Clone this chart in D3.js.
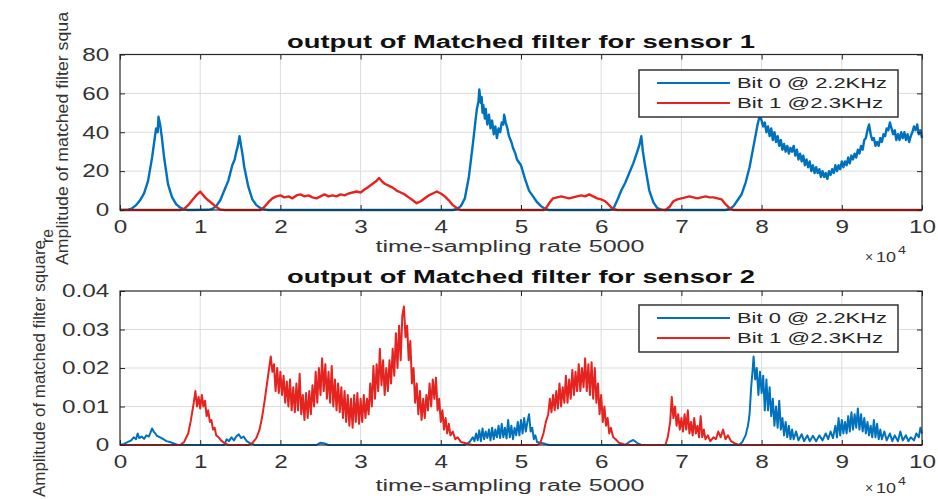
<!DOCTYPE html>
<html><head><meta charset="utf-8">
<script src="https://cdn.jsdelivr.net/npm/d3@7"></script>
<style>body{margin:0;background:#fff}svg{display:block}</style>
</head><body>
<svg id="c" width="938" height="499"></svg>
<script>
// ---------------- DATA ----------------
const xTicks = [0,1,2,3,4,5,6,7,8,9,10];
const yTicksTop = [0,20,40,60,80];
const yTicksBottom = [0,0.01,0.02,0.03,0.04];
const titles = ["output of Matched filter for sensor 1","output of Matched filter for sensor 2"];
const xLabel = "time-sampling rate 5000";
const yLabelTop = ["Amplitude of matched filter squa","re"];
const yLabelBottom = "Amplitude of matched filter square";
const legendLabels = ["Bit 0 @ 2.2KHz","Bit 1 @2.3KHz"];

// sensor 1, bit 0 (x in 1e4 samples, y amplitude)
const s1Bit0 = [[0,0],[0.1,0.2],[0.15,0.8],[0.2,2.5],[0.25,5],[0.3,8.5],[0.35,15],[0.4,27],[0.43,36],[0.45,42],[0.47,40],[0.48,48],[0.5,44],[0.52,38],[0.55,27],[0.6,13],[0.65,6.5],[0.7,3],[0.75,1.2],[0.8,0.3],[0.85,0],[1.1,0.1],[1.15,0.5],[1.2,2],[1.25,5],[1.3,10],[1.35,15],[1.4,23],[1.43,26],[1.45,30],[1.47,33],[1.49,38],[1.51,33],[1.53,28],[1.55,22],[1.6,12],[1.65,5.5],[1.7,2.5],[1.75,1],[1.8,0.3],[1.85,0],[4.15,0],[4.2,0.5],[4.25,2],[4.3,6],[4.35,17],[4.4,34],[4.43,45],[4.45,52],[4.47,56],[4.48,62],[4.5,55],[4.51,58],[4.52,50],[4.53,54],[4.55,47],[4.56,52],[4.58,44],[4.6,49],[4.62,42],[4.64,46],[4.66,39],[4.68,43],[4.7,37],[4.72,42],[4.74,40],[4.76,45],[4.78,44],[4.79,49],[4.81,45],[4.83,42],[4.85,38],[4.88,35],[4.9,32],[4.93,29],[4.95,26],[5.0,23],[5.05,16],[5.1,10],[5.15,7],[5.2,4],[5.25,2],[5.3,0.5],[5.35,0],[6.1,0],[6.15,0.5],[6.2,5],[6.25,10],[6.3,14],[6.35,19],[6.4,24],[6.45,30],[6.48,34],[6.5,38],[6.52,30],[6.55,22],[6.6,10],[6.65,4],[6.7,1],[6.75,0.2],[6.8,0],[7.55,0],[7.6,0.5],[7.65,2],[7.7,5],[7.75,8],[7.8,14],[7.85,22],[7.9,33],[7.95,44],[7.98,49],[8.0,46],[8.02,43],[8.04,45],[8.06,40],[8.08,43],[8.1,38],[8.12,42],[8.14,36],[8.16,40],[8.18,35],[8.2,38],[8.22,33],[8.24,36],[8.26,31],[8.28,34],[8.3,30],[8.32,33],[8.34,29],[8.36,32],[8.38,30],[8.4,33],[8.42,28],[8.44,31],[8.46,26],[8.48,29],[8.5,25],[8.52,28],[8.54,23],[8.56,26],[8.58,22],[8.6,25],[8.62,20],[8.64,23],[8.66,19],[8.68,22],[8.7,19],[8.72,21],[8.74,17],[8.76,20],[8.78,17],[8.8,19],[8.82,16],[8.84,20],[8.86,18],[8.88,21],[8.9,19],[8.92,23],[8.94,20],[8.96,23],[8.98,21],[9.0,25],[9.02,22],[9.04,25],[9.06,23],[9.08,27],[9.1,24],[9.12,28],[9.14,26],[9.16,29],[9.18,27],[9.2,31],[9.22,29],[9.24,33],[9.26,31],[9.28,36],[9.3,37],[9.32,41],[9.34,44],[9.36,39],[9.38,36],[9.4,37],[9.42,33],[9.44,35],[9.46,33],[9.48,37],[9.5,35],[9.52,39],[9.54,38],[9.56,42],[9.58,41],[9.6,45],[9.62,42],[9.64,39],[9.66,41],[9.68,36],[9.7,39],[9.72,36],[9.74,40],[9.76,37],[9.78,40],[9.8,36],[9.82,39],[9.84,35],[9.86,38],[9.88,40],[9.9,43],[9.92,41],[9.94,44],[9.96,39],[9.98,41],[10,37]];

// sensor 1, bit 1
const s1Bit1 = [[0,0],[0.75,0],[0.8,0.6],[0.85,2.5],[0.9,5],[0.95,7.5],[1.0,9.5],[1.03,8],[1.06,6.5],[1.1,5],[1.13,4],[1.16,3],[1.2,1.5],[1.25,0.3],[1.3,0],[1.75,0],[1.8,1.5],[1.85,4],[1.9,6],[1.95,7],[2.0,7.5],[2.05,6.5],[2.1,7],[2.15,6],[2.2,7.5],[2.25,8],[2.3,7],[2.35,7.5],[2.4,6.5],[2.45,6],[2.5,7],[2.55,8],[2.6,7],[2.65,7.5],[2.7,7],[2.75,8],[2.8,7.5],[2.85,8.5],[2.9,9],[2.95,9.5],[3.0,9],[3.05,10.5],[3.1,12],[3.15,13.5],[3.2,15],[3.23,16.5],[3.26,15],[3.3,13.5],[3.35,12.5],[3.4,11.5],[3.45,10],[3.5,9],[3.55,8],[3.6,6.5],[3.65,5],[3.7,3.5],[3.75,4.5],[3.8,6],[3.85,7.5],[3.9,8.5],[3.95,9.5],[4.0,8.5],[4.05,7],[4.1,5],[4.15,2.5],[4.2,1],[4.25,0],[5.28,0],[5.32,1.5],[5.36,4],[5.4,6],[5.45,6.5],[5.5,7],[5.55,6.5],[5.6,6],[5.65,6.5],[5.7,7],[5.75,7.5],[5.8,7],[5.85,8],[5.9,7],[5.95,6],[6.0,5.5],[6.05,4.5],[6.1,2.5],[6.15,0.5],[6.2,0],[6.8,0],[6.85,1.5],[6.9,4.5],[6.95,5.5],[7.0,6],[7.05,6.5],[7.1,7],[7.15,6.5],[7.2,6],[7.25,6.5],[7.3,7],[7.35,6.5],[7.4,6.5],[7.45,6],[7.5,5.5],[7.55,3],[7.6,1],[7.65,0],[10,0]];

// sensor 2, bit 0
const s2Bit0 = [[0,0],[0.05,0.0003],[0.1,0.0008],[0.14,0.0012],[0.17,0.002],[0.2,0.0015],[0.22,0.003],[0.24,0.0018],[0.27,0.0022],[0.3,0.0016],[0.33,0.0025],[0.36,0.0022],[0.38,0.0032],[0.4,0.0043],[0.42,0.0035],[0.44,0.003],[0.46,0.0024],[0.5,0.002],[0.54,0.0015],[0.58,0.001],[0.62,0.0008],[0.67,0.0004],[0.72,0],[1.3,0],[1.33,0.0015],[1.36,0.001],[1.39,0.002],[1.42,0.0012],[1.45,0.0022],[1.48,0.0028],[1.51,0.0018],[1.54,0.0022],[1.58,0.001],[1.62,0.0005],[1.68,0],[2.45,0],[2.5,0.0006],[2.55,0.0004],[2.6,0],[4.3,0],[4.36,0.0008],[4.4,0.002],[4.42,0.001],[4.44,0.003],[4.46,0.0012],[4.48,0.0038],[4.5,0.001],[4.52,0.0043],[4.54,0.0015],[4.56,0.0035],[4.58,0.0018],[4.6,0.004],[4.62,0.0012],[4.64,0.0045],[4.66,0.0015],[4.68,0.004],[4.7,0.002],[4.72,0.005],[4.74,0.0018],[4.76,0.0055],[4.78,0.002],[4.8,0.0045],[4.82,0.0017],[4.84,0.0065],[4.86,0.002],[4.88,0.005],[4.9,0.0015],[4.92,0.0045],[4.94,0.0025],[4.96,0.006],[4.98,0.0025],[5.0,0.0065],[5.02,0.003],[5.04,0.007],[5.06,0.0035],[5.08,0.006],[5.1,0.008],[5.12,0.0035],[5.14,0.0045],[5.16,0.0015],[5.18,0.0025],[5.2,0.0008],[5.24,0.0006],[5.3,0.0003],[5.35,0],[6.3,0],[6.35,0.0008],[6.4,0.0013],[6.45,0.0005],[6.5,0],[7.72,0],[7.76,0.0008],[7.8,0.0025],[7.83,0.005],[7.85,0.008],[7.87,0.015],[7.89,0.02],[7.9,0.023],[7.92,0.017],[7.94,0.02],[7.96,0.013],[7.98,0.019],[8.0,0.0135],[8.02,0.018],[8.04,0.009],[8.06,0.017],[8.08,0.009],[8.1,0.015],[8.12,0.0075],[8.14,0.012],[8.16,0.005],[8.18,0.01],[8.2,0.0045],[8.22,0.0115],[8.24,0.004],[8.26,0.007],[8.28,0.0025],[8.3,0.006],[8.32,0.002],[8.34,0.005],[8.36,0.0015],[8.38,0.004],[8.4,0.0015],[8.43,0.0035],[8.46,0.0012],[8.5,0.0028],[8.53,0.001],[8.57,0.0025],[8.6,0.001],[8.64,0.0024],[8.68,0.001],[8.72,0.0025],[8.76,0.0012],[8.8,0.003],[8.83,0.0015],[8.86,0.0035],[8.89,0.0018],[8.92,0.005],[8.94,0.002],[8.96,0.007],[8.98,0.0025],[9.0,0.0065],[9.02,0.003],[9.04,0.006],[9.06,0.003],[9.08,0.0075],[9.1,0.0035],[9.12,0.0085],[9.14,0.004],[9.16,0.008],[9.18,0.0045],[9.2,0.0095],[9.22,0.004],[9.24,0.008],[9.26,0.0035],[9.28,0.007],[9.3,0.003],[9.32,0.006],[9.34,0.0025],[9.36,0.005],[9.38,0.002],[9.4,0.0065],[9.42,0.002],[9.44,0.0055],[9.46,0.0015],[9.48,0.004],[9.5,0.0015],[9.53,0.0035],[9.56,0.0012],[9.6,0.003],[9.63,0.001],[9.66,0.0025],[9.7,0.001],[9.73,0.0035],[9.76,0.0012],[9.8,0.0025],[9.83,0.001],[9.86,0.002],[9.9,0.0012],[9.93,0.003],[9.96,0.002],[9.98,0.0045],[10,0.003]];

// sensor 2, bit 1
const s2Bit1 = [[0,0],[0.75,0],[0.8,0.0008],[0.85,0.003],[0.88,0.006],[0.9,0.0085],[0.92,0.011],[0.94,0.014],[0.96,0.01],[0.98,0.0125],[1.0,0.0095],[1.02,0.013],[1.04,0.01],[1.06,0.0115],[1.08,0.0075],[1.1,0.009],[1.12,0.006],[1.14,0.0065],[1.16,0.004],[1.18,0.0045],[1.2,0.0025],[1.23,0.002],[1.26,0.0012],[1.3,0.0005],[1.35,0],[1.6,0],[1.65,0.0005],[1.7,0.0018],[1.74,0.004],[1.77,0.007],[1.8,0.011],[1.83,0.0155],[1.86,0.02],[1.88,0.023],[1.9,0.019],[1.92,0.021],[1.94,0.014],[1.96,0.02],[1.98,0.0135],[2.0,0.019],[2.02,0.013],[2.04,0.018],[2.06,0.011],[2.08,0.0165],[2.1,0.01],[2.12,0.017],[2.14,0.009],[2.16,0.015],[2.18,0.0085],[2.2,0.016],[2.22,0.009],[2.24,0.0185],[2.26,0.008],[2.28,0.013],[2.3,0.0065],[2.32,0.0135],[2.34,0.007],[2.36,0.014],[2.38,0.008],[2.4,0.0155],[2.42,0.01],[2.44,0.019],[2.46,0.011],[2.48,0.02],[2.5,0.013],[2.52,0.0225],[2.54,0.014],[2.56,0.021],[2.58,0.012],[2.6,0.019],[2.62,0.011],[2.64,0.0205],[2.66,0.01],[2.68,0.017],[2.7,0.009],[2.72,0.016],[2.74,0.0085],[2.76,0.015],[2.78,0.007],[2.8,0.014],[2.82,0.006],[2.84,0.013],[2.86,0.005],[2.88,0.012],[2.9,0.0045],[2.92,0.013],[2.94,0.006],[2.96,0.0135],[2.98,0.0055],[3.0,0.012],[3.02,0.006],[3.04,0.013],[3.06,0.007],[3.08,0.012],[3.1,0.008],[3.12,0.016],[3.14,0.01],[3.16,0.0205],[3.18,0.012],[3.2,0.021],[3.22,0.014],[3.24,0.025],[3.26,0.0155],[3.28,0.022],[3.3,0.013],[3.32,0.02],[3.34,0.014],[3.36,0.022],[3.38,0.016],[3.4,0.025],[3.42,0.018],[3.44,0.029],[3.46,0.02],[3.48,0.031],[3.5,0.022],[3.52,0.0335],[3.54,0.036],[3.56,0.028],[3.58,0.031],[3.6,0.022],[3.62,0.027],[3.64,0.016],[3.66,0.02],[3.68,0.011],[3.7,0.016],[3.72,0.008],[3.74,0.014],[3.76,0.0065],[3.78,0.012],[3.8,0.007],[3.82,0.013],[3.84,0.009],[3.86,0.016],[3.88,0.01],[3.9,0.017],[3.92,0.012],[3.94,0.0175],[3.96,0.009],[3.98,0.012],[4.0,0.006],[4.02,0.009],[4.04,0.004],[4.06,0.007],[4.08,0.003],[4.1,0.0055],[4.12,0.0025],[4.15,0.0035],[4.18,0.0015],[4.21,0.002],[4.25,0.0008],[4.3,0.0005],[4.35,0.0002],[4.4,0],[5.2,0],[5.24,0.0005],[5.28,0.003],[5.31,0.006],[5.34,0.008],[5.36,0.012],[5.38,0.0085],[5.4,0.013],[5.42,0.009],[5.44,0.014],[5.46,0.0095],[5.48,0.016],[5.5,0.01],[5.52,0.015],[5.54,0.011],[5.56,0.018],[5.58,0.011],[5.6,0.017],[5.62,0.012],[5.64,0.0195],[5.66,0.013],[5.68,0.019],[5.7,0.014],[5.72,0.021],[5.74,0.014],[5.76,0.02],[5.78,0.015],[5.8,0.0225],[5.82,0.014],[5.84,0.021],[5.86,0.013],[5.88,0.0215],[5.9,0.012],[5.92,0.02],[5.94,0.011],[5.96,0.016],[5.98,0.008],[6.0,0.013],[6.02,0.006],[6.04,0.01],[6.06,0.005],[6.08,0.007],[6.1,0.003],[6.12,0.0045],[6.15,0.002],[6.18,0.0015],[6.22,0.0006],[6.28,0.0002],[6.35,0],[6.8,0],[6.83,0.002],[6.86,0.006],[6.88,0.0125],[6.9,0.007],[6.92,0.01],[6.94,0.005],[6.96,0.008],[6.98,0.004],[7.0,0.007],[7.02,0.0035],[7.04,0.008],[7.06,0.004],[7.08,0.009],[7.1,0.003],[7.12,0.006],[7.14,0.0025],[7.16,0.007],[7.18,0.003],[7.2,0.005],[7.22,0.002],[7.24,0.0075],[7.26,0.002],[7.28,0.004],[7.3,0.0015],[7.33,0.0025],[7.36,0.001],[7.4,0.002],[7.43,0.0015],[7.46,0.0035],[7.49,0.002],[7.52,0.004],[7.55,0.0015],[7.58,0.0025],[7.62,0.001],[7.66,0.0005],[7.72,0],[10,0]];

// ---------------- DRAWING ----------------
const BLUE = "#0072BD", RED = "#e5231f";
const svg = d3.select("#c");
const root = svg.append("g");
const FONT = "'Liberation Sans', Arial, sans-serif";
const SX = 1.35; // horizontal stretch of the reference's type

function hText(g, str, x, y, o) {
  o = o || {};
  const t = g.append("text")
    .attr("x", x).attr("y", y)
    .attr("font-family", FONT)
    .attr("font-size", o.size || 16)
    .attr("font-weight", o.weight || "normal")
    .attr("fill", o.fill || "#262626")
    .attr("text-anchor", o.anchor || "start")
    .text(str);
  if (o.len) t.attr("textLength", o.len).attr("lengthAdjust", "spacingAndGlyphs");
  return t;
}

const panels = [
  {top: 54.5, bottom: 210, yDomain: [0, 80], yTicks: yTicksTop, fmt: d3.format("d"),
   series: [s1Bit0, s1Bit1], title: titles[0], titleY: 48, xlabY: 252, x10Y: 262, legY: 70, sw: 2.4},
  {top: 291, bottom: 445, yDomain: [0, 0.04], yTicks: yTicksBottom, fmt: d => d === 0 ? "0" : d.toFixed(2),
   series: [s2Bit0, s2Bit1], title: titles[1], titleY: 283, xlabY: 491, x10Y: 493, legY: 305, sw: 2}
];
const L = 120, R = 922;

panels.forEach(p => {
  const g = root.append("g");
  const x = d3.scaleLinear().domain([0, 10]).range([L, R]);
  const y = d3.scaleLinear().domain(p.yDomain).range([p.bottom, p.top]);

  // grid
  g.append("g").selectAll("line").data(xTicks.slice(1, -1)).join("line")
    .attr("x1", d => x(d)).attr("x2", d => x(d)).attr("y1", p.top).attr("y2", p.bottom)
    .attr("stroke", "#dcdcdc").attr("stroke-width", 1);
  g.append("g").selectAll("line").data(p.yTicks.slice(1, -1)).join("line")
    .attr("y1", d => y(d)).attr("y2", d => y(d)).attr("x1", L).attr("x2", R)
    .attr("stroke", "#dcdcdc").attr("stroke-width", 1);

  // series
  const line = d3.line().x(d => x(d[0])).y(d => y(d[1]));
  g.append("path").datum(p.series[0]).attr("d", line)
    .attr("fill", "none").attr("stroke", BLUE).attr("stroke-width", p.sw).attr("stroke-linejoin", "round");
  g.append("path").datum(p.series[1]).attr("d", line)
    .attr("fill", "none").attr("stroke", RED).attr("stroke-width", p.sw).attr("stroke-linejoin", "round");

  // axes (MATLAB style, ticks inside, box on)
  const axB = g.append("g").attr("transform", `translate(0,${p.bottom})`)
    .call(d3.axisBottom(x).tickValues(xTicks).tickSizeInner(-5).tickSizeOuter(0).tickPadding(10).tickFormat(d3.format("d")));
  const axL = g.append("g").attr("transform", `translate(${L},0)`)
    .call(d3.axisLeft(y).tickValues(p.yTicks).tickSizeInner(-5).tickSizeOuter(0).tickPadding(8).tickFormat(p.fmt));
  const axT = g.append("g").attr("transform", `translate(0,${p.top})`)
    .call(d3.axisTop(x).tickValues(xTicks).tickSizeInner(-5).tickSizeOuter(0).tickFormat(""));
  const axR = g.append("g").attr("transform", `translate(${R},0)`)
    .call(d3.axisRight(y).tickValues(p.yTicks).tickSizeInner(-5).tickSizeOuter(0).tickFormat(""));
  [axB, axL, axT, axR].forEach(a => {
    a.select(".domain").remove();
    a.selectAll(".tick line").attr("stroke", "#262626");
    a.selectAll("text").attr("font-family", FONT).attr("font-size", 18).attr("fill", "#333")
      .attr("transform", `scale(${SX},1)`);
  });
  g.append("rect").attr("x", L).attr("y", p.top).attr("width", R - L).attr("height", p.bottom - p.top)
    .attr("fill", "none").attr("stroke", "#262626").attr("stroke-width", 1.2);

  // title, xlabel, exponent
  hText(g, p.title, 521, p.titleY, {size: 18, weight: "bold", fill: "#111", anchor: "middle", len: 468});
  hText(g, xLabel, 510, p.xlabY, {size: 16, fill: "#333", anchor: "middle", len: 269});
  hText(g, "\u00d7", 865, p.x10Y, {size: 14, fill: "#444"});
  hText(g, "10", 876, p.x10Y, {size: 15, fill: "#333", len: 20});
  hText(g, "4", 898, p.x10Y - 8, {size: 11, fill: "#333", len: 8});

  // legend
  const lg = g.append("g");
  lg.append("rect").attr("x", 639).attr("y", p.legY).attr("width", 259).attr("height", 47)
    .attr("fill", "#fff").attr("stroke", "#333").attr("stroke-width", 1.5);
  [BLUE, RED].forEach((c, i) => {
    const ly = p.legY + 13 + i * 20;
    lg.append("line").attr("x1", 657).attr("x2", 730).attr("y1", ly).attr("y2", ly)
      .attr("stroke", c).attr("stroke-width", 2);
    hText(lg, legendLabels[i], 737, ly + 5, {size: 15, fill: "#262626", len: i === 0 ? 150 : 146});
  });
});

// y labels (rotated)
function vText(str, x, y, len, size) {
  root.append("text").attr("transform", `translate(${x},${y}) rotate(-90)`)
    .attr("font-family", FONT).attr("font-size", size).attr("fill", "#333")
    .attr("textLength", len).attr("lengthAdjust", "spacingAndGlyphs").text(str);
}
vText(yLabelTop[0], 68, 265, 253, 16);
vText(yLabelTop[1], 53, 243, 14, 16);
vText(yLabelBottom, 45, 497, 257, 16);
</script>
</body></html>
